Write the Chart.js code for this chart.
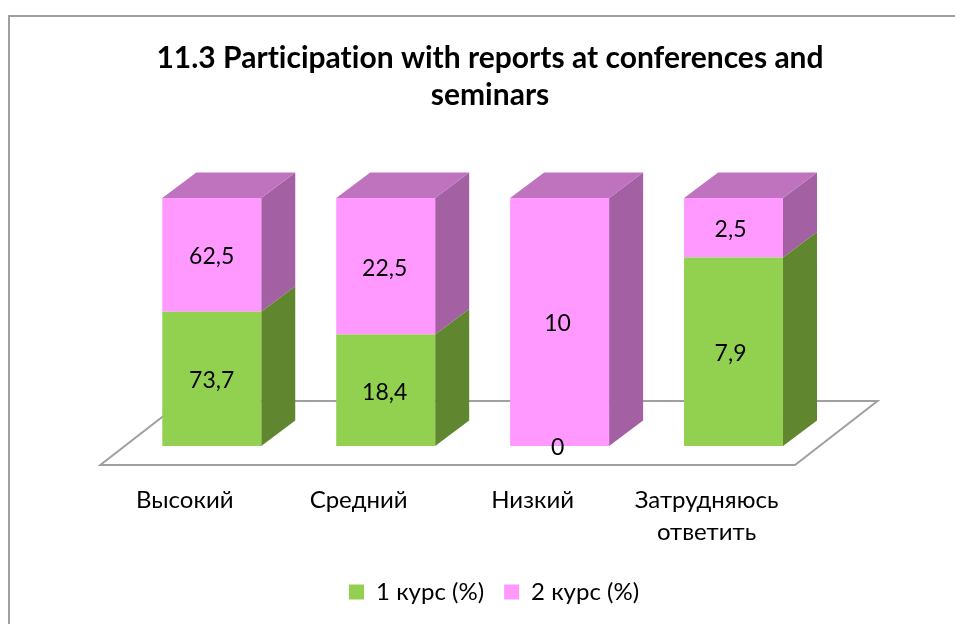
<!DOCTYPE html>
<html>
<head>
<meta charset="utf-8">
<style>
    html, body { margin: 0; padding: 0; background: #fff; overflow: hidden; }
    .frame { position: absolute; left: 8px; top: 15px; right: 0; bottom: 0; border-left: 2px solid #a0a0a0; border-top: 2px solid #a0a0a0; }
    canvas { position: absolute; left: 0; top: 0; }
</style>
</head>
<body>
<div class="frame"></div>
<canvas id="chart" width="955" height="624"></canvas>
<script src="https://cdn.jsdelivr.net/npm/chart.js@4"></script>
<script>
const categories = ['Высокий', 'Средний', 'Низкий', ['Затрудняюсь', 'ответить']]
const course1 = [73.7, 18.4, 0, 7.9]
const course2 = [62.5, 22.5, 10, 2.5]
const seriesNames = ['1 курс (%)', '2 курс (%)']
const titleLines = ['11.3 Participation with reports at conferences and', 'seminars']

const fontName = "Lato, 'Noto Sans', sans-serif"
const depthX = 34
const depthY = 25.5

// the original is a 100% stacked column, so bar heights are each value's share
const totals = course1.map((v, i) => v + course2[i])
const share1 = course1.map((v, i) => v / totals[i] * 100)
const share2 = course2.map((v, i) => v / totals[i] * 100)
const rawValues = [course1, course2]

const sideColors = ['#60862f', '#a360a3']
const topColor = '#bf73bf'

const floorPlugin = {
    id: 'floor',
    afterLayout(chart) {
        // legend sits a little right of the title in the original
        chart.legend.left += 4
        chart.legend.right += 4
    },
    beforeDraw(chart) {
        // stops Lato joining "ti" into a ligature
        chart.ctx.letterSpacing = '0.01px'
    },
    beforeDatasetsDraw(chart) {
        const ctx = chart.ctx
        const a = chart.chartArea
        ctx.save()
        ctx.strokeStyle = '#a0a0a0'
        ctx.lineWidth = 2
        ctx.beginPath()
        ctx.moveTo(a.left - 24.5, a.bottom + 19)
        ctx.lineTo(a.right - 25.5, a.bottom + 19)
        ctx.lineTo(a.right + 57, a.bottom - 45)
        ctx.lineTo(a.left + 58, a.bottom - 45)
        ctx.closePath()
        ctx.stroke()
        ctx.restore()
    }
}

const boxPlugin = {
    id: 'box3d',
    beforeDatasetDraw(chart, args) {
        const ctx = chart.ctx
        const i = args.index
        chart.getDatasetMeta(i).data.forEach(bar => {
            const right = bar.x + bar.width / 2
            const left = bar.x - bar.width / 2
            if (Math.abs(bar.base - bar.y) < 0.5) return
            ctx.fillStyle = sideColors[i]
            ctx.beginPath()
            ctx.moveTo(right, bar.base)
            ctx.lineTo(right + depthX, bar.base - depthY)
            ctx.lineTo(right + depthX, bar.y - depthY)
            ctx.lineTo(right, bar.y)
            ctx.closePath()
            ctx.fill()
            if (i === 1) {
                ctx.fillStyle = topColor
                ctx.beginPath()
                ctx.moveTo(left, bar.y)
                ctx.lineTo(left + depthX, bar.y - depthY)
                ctx.lineTo(right + depthX, bar.y - depthY)
                ctx.lineTo(right, bar.y)
                ctx.closePath()
                ctx.fill()
            }
        })
    },
    afterDatasetsDraw(chart) {
        const ctx = chart.ctx
        ctx.save()
        ctx.font = '23px ' + fontName
        ctx.fillStyle = '#000'
        ctx.textAlign = 'center'
        ctx.textBaseline = 'middle'
        rawValues.forEach((values, s) => {
            chart.getDatasetMeta(s).data.forEach((bar, i) => {
                const text = String(values[i]).replace('.', ',')
                ctx.fillText(text, bar.x - i, (bar.y + bar.base) / 2 + 2)
            })
        })
        ctx.restore()
    }
}

new Chart(document.getElementById('chart'), {
    type: 'bar',
    data: {
        labels: categories,
        datasets: [
            { label: seriesNames[0], data: share1, backgroundColor: '#92d050' },
            { label: seriesNames[1], data: share2, backgroundColor: '#ff99ff' }
        ]
    },
    plugins: [floorPlugin, boxPlugin],
    options: {
        responsive: false,
        animation: false,
        layout: { padding: { left: 25, right: 0, top: 0, bottom: 10 } },
        datasets: { bar: { categoryPercentage: 0.569, barPercentage: 1 } },
        scales: {
            x: {
                stacked: true,
                grid: { display: false },
                border: { display: false },
                ticks: {
                    color: '#000',
                    font: { family: fontName, size: 24, lineHeight: 1.333 },
                    labelOffset: -27,
                    maxRotation: 0,
                    autoSkip: false,
                    padding: 30
                },
                afterFit: s => { s.height = 114 }
            },
            y: {
                stacked: true,
                min: 0,
                max: 100,
                grid: { display: false },
                border: { display: false },
                ticks: { display: false },
                afterFit: s => { s.width = 99.8 }
            },
            // empty axis on the right, only keeps the plot off the title's centre
            yRight: {
                position: 'right',
                grid: { display: false },
                border: { display: false },
                ticks: { display: false },
                afterFit: s => { s.width = 134.5 }
            }
        },
        plugins: {
            title: {
                display: true,
                text: titleLines,
                color: '#000',
                font: { family: fontName, size: 30, weight: 'bold', lineHeight: 1.233 },
                padding: { top: 39.5, bottom: 84.5 }
            },
            legend: {
                position: 'bottom',
                labels: {
                    color: '#000',
                    font: { family: fontName, size: 24 },
                    boxWidth: 15,
                    boxHeight: 15,
                    padding: 20
                }
            },
            tooltip: { enabled: false }
        }
    }
})
</script>
</body>
</html>
